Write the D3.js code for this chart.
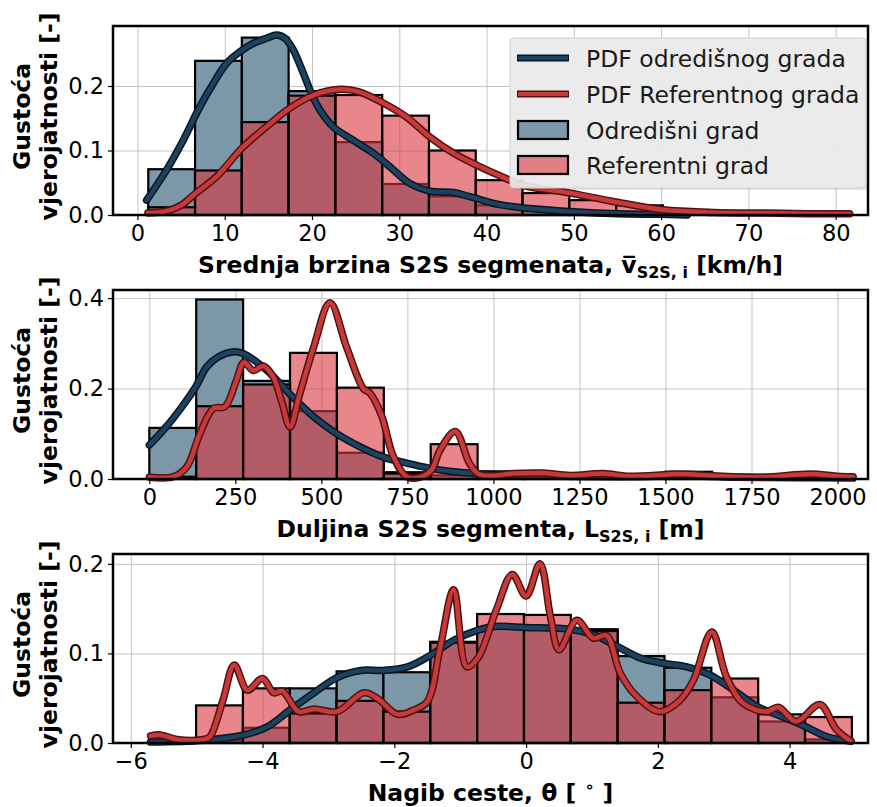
<!DOCTYPE html>
<html><head><meta charset="utf-8">
<script src="https://cdn.jsdelivr.net/npm/d3@7"></script>
<style>body{margin:0;background:#fff} svg text{font-family:"DejaVu Sans",sans-serif}</style>
</head><body><svg id="c" width="877" height="807"></svg>
<script>
// ---------- Panel 1: mean speed ----------
const speedEdges = [1.24, 6.6, 11.96, 17.32, 22.68, 28.04, 33.4, 38.76, 44.12, 49.48, 54.84, 60.2, 65.56, 70.92, 76.28, 81.64];
const speedDest = [0.071, 0.239, 0.275, 0.192, 0.113, 0.048, 0.029, 0.015, 0.008, 0.004, 0.002, 0, 0, 0, 0];
const speedRef  = [0.012, 0.069, 0.144, 0.185, 0.186, 0.154, 0.100, 0.054, 0.034, 0.023, 0.015, 0.008, 0.005, 0.003, 0.002];
const speedDestPdf = [[1.05,0.023],[3.34,0.07],[5.25,0.116],[7.16,0.168],[8.69,0.204],[10.2,0.235],[11.74,0.253],[13.27,0.266],[14.8,0.274],[15.94,0.279],[16.9,0.274],[17.85,0.256],[19.0,0.22],[20.1,0.183],[20.9,0.163],[22.4,0.137],[24.7,0.116],[27.0,0.096],[28.9,0.075],[31.2,0.049],[33.5,0.037],[36.2,0.035],[38.2,0.028],[41.5,0.016],[45,0.01],[50,0.005],[55,0.002],[60,0.001],[63,0.0]];
const speedRefPdf = [[1.2,0.003],[3.3,0.006],[5,0.015],[6.7,0.034],[9.1,0.06],[12.0,0.104],[14.8,0.137],[17.5,0.166],[20.2,0.186],[23.3,0.195],[25.4,0.191],[28.1,0.174],[30.8,0.152],[33.5,0.121],[36.2,0.096],[38.9,0.077],[41.5,0.061],[44.2,0.046],[49.6,0.034],[54.5,0.021],[60.2,0.008],[66,0.004],[72,0.003],[77,0.002],[81.6,0.002]];
const speedXTicks = [0,10,20,30,40,50,60,70,80];
const speedYTicks = [0,0.1,0.2];

// ---------- Panel 2: segment length ----------
const lengthEdges = [0, 136.3, 272.6, 408.9, 545.2, 681.5, 817.8, 954.1, 1090.4, 1226.7, 1363, 1499.3, 1635.6, 1771.9, 1908.2, 2044.5];
const lengthDest = [0.113, 0.397, 0.217, 0.150, 0.058, 0.015, 0.008, 0.017, 0.005, 0.003, 0.002, 0.016, 0, 0, 0];
const lengthRef  = [0.005, 0.161, 0.209, 0.279, 0.202, 0.012, 0.077, 0.012, 0.013, 0.008, 0.007, 0.010, 0.003, 0.004, 0.008];
const lengthDestPdf = [[0,0.075],[50,0.116],[100,0.165],[135,0.204],[167,0.248],[200,0.27],[240,0.281],[271,0.278],[341,0.241],[407,0.189],[477,0.138],[543,0.101],[613,0.071],[678,0.049],[748,0.035],[814,0.024],[884,0.016],[951,0.012],[1019,0.009],[1200,0.006],[1400,0.005],[1550,0.007],[1700,0.004],[1900,0.003],[2045,0.002]];
const lengthRefPdf = [[0,0.004],[70,0.005],[109,0.027],[147,0.10],[186,0.156],[220,0.16],[254,0.22],[275,0.258],[302,0.24],[331,0.25],[360,0.226],[385,0.17],[409,0.115],[436,0.185],[477,0.29],[525,0.39],[574,0.29],[622,0.20],[641,0.19],[675,0.14],[709,0.05],[748,0.005],[787,0.004],[820,0.02],[845,0.064],[889,0.105],[930,0.035],[955,0.012],[990,0.007],[1058,0.012],[1145,0.013],[1223,0.008],[1320,0.012],[1397,0.006],[1543,0.011],[1640,0.007],[1785,0.004],[1921,0.011],[1998,0.006],[2045,0.005]];
const lengthXTicks = [0,250,500,750,1000,1250,1500,1750,2000];
const lengthYTicks = [0,0.2,0.4];

// ---------- Panel 3: road grade ----------
const gradeEdges = [-5.72, -5.009, -4.298, -3.587, -2.876, -2.165, -1.454, -0.743, -0.032, 0.679, 1.39, 2.101, 2.812, 3.523, 4.234, 4.945];
const gradeDest = [0.002, 0.003, 0.017, 0.061, 0.080, 0.079, 0.113, 0.128, 0.127, 0.127, 0.097, 0.084, 0.051, 0.024, 0.004];
const gradeRef  = [0.003, 0.042, 0.061, 0.033, 0.047, 0.035, 0.112, 0.144, 0.143, 0.125, 0.045, 0.059, 0.072, 0.032, 0.029];
const gradeDestPdf = [[-5.7,0.001],[-4.9,0.003],[-4.28,0.009],[-3.93,0.018],[-3.58,0.037],[-3.22,0.056],[-2.87,0.073],[-2.51,0.081],[-2.17,0.081],[-1.80,0.085],[-1.45,0.098],[-1.09,0.115],[-0.73,0.126],[-0.48,0.13],[0,0.129],[0.67,0.127],[1.02,0.121],[1.38,0.108],[1.73,0.095],[2.08,0.089],[2.44,0.085],[2.79,0.076],[3.15,0.059],[3.50,0.041],[3.86,0.03],[4.22,0.019],[4.57,0.007],[4.93,0.002]];
const gradeRefPdf = [[-5.7,0.008],[-5.55,0.009],[-5.3,0.004],[-4.9,0.004],[-4.8,0.007],[-4.6,0.048],[-4.43,0.087],[-4.23,0.059],[-4.0,0.072],[-3.83,0.056],[-3.7,0.058],[-3.45,0.035],[-3.22,0.038],[-2.87,0.035],[-2.46,0.056],[-2.26,0.05],[-1.95,0.032],[-1.70,0.037],[-1.50,0.046],[-1.30,0.108],[-1.10,0.171],[-0.90,0.085],[-0.73,0.095],[-0.45,0.149],[-0.21,0.188],[0,0.164],[0.21,0.2],[0.37,0.141],[0.50,0.104],[0.77,0.137],[1.02,0.117],[1.22,0.12],[1.43,0.078],[1.68,0.052],[2.03,0.035],[2.34,0.048],[2.54,0.07],[2.82,0.124],[3.04,0.074],[3.30,0.044],[3.65,0.035],[3.83,0.04],[4.10,0.024],[4.46,0.043],[4.71,0.015],[4.93,0.002]];
const gradeXTicks = [-6,-4,-2,0,2,4];
const gradeYTicks = [0,0.1,0.2];

const legendLabels = ["PDF odredišnog grada","PDF Referentnog grada","Odredišni grad","Referentni grad"];
const yLabelLines = ["Gustoća","vjerojatnosti [-]"];

// ---------- drawing ----------
const svg = d3.select("#c");
const L = 113, R = 868, H = 189;
const TICK_FS = 22.5, LABEL_FS = 23.5, LEGEND_FS = 23.5;
const COL = {blueFill:"#7b97a8", redFill:"#d9363e", blueLine:"#1d4260", blueEdge:"#071624", redLine:"#c83a3a", redEdge:"#4f1212", grid:"#c4c4c4"};
const minus = d => d < 0 ? "\u2212" + Math.abs(d) : String(d);

const panels = [
  {top:26, xd:[-2.8,83.7], ymax:0.293, edges:speedEdges, dest:speedDest, ref:speedRef, dPdf:speedDestPdf, rPdf:speedRefPdf, xt:speedXTicks, yt:speedYTicks,
   label:[{t:"Srednja brzina S2S segmenata, "},{t:"v\u0305"},{t:"S2S, i", sub:true},{t:" [km/h]", up:true}], legend:true},
  {top:290, xd:[-105.5,2088.5], ymax:0.418, edges:lengthEdges, dest:lengthDest, ref:lengthRef, dPdf:lengthDestPdf, rPdf:lengthRefPdf, xt:lengthXTicks, yt:lengthYTicks,
   label:[{t:"Duljina S2S segmenta, "},{t:"L"},{t:"S2S, i", sub:true},{t:" [m]", up:true}]},
  {top:554, xd:[-6.27,5.19], ymax:0.211, edges:gradeEdges, dest:gradeDest, ref:gradeRef, dPdf:gradeDestPdf, rPdf:gradeRefPdf, xt:gradeXTicks, yt:gradeYTicks,
   label:[{t:"Nagib ceste, \u03b8 [ "},{t:"\u2218", sup:true},{t:" ]", down:true}]}
];

panels.forEach((p, pi) => {
  const bottom = p.top + H;
  const x = d3.scaleLinear().domain(p.xd).range([L, R]);
  const y = d3.scaleLinear().domain([0, p.ymax]).range([bottom, p.top]);
  const g = svg.append("g");

  // grid
  g.append("g").attr("transform", `translate(0,${bottom})`)
    .call(d3.axisBottom(x).tickValues(p.xt).tickSize(-H).tickFormat(""))
    .call(a => { a.select(".domain").remove(); a.selectAll("line").attr("stroke", COL.grid).attr("stroke-width", 1); });
  g.append("g").attr("transform", `translate(${L},0)`)
    .call(d3.axisLeft(y).tickValues(p.yt).tickSize(-(R-L)).tickFormat(""))
    .call(a => { a.select(".domain").remove(); a.selectAll("line").attr("stroke", COL.grid).attr("stroke-width", 1); });

  const bars = (vals, fill, op) => g.append("g").selectAll("rect").data(vals).join("rect")
      .attr("x", (d,i) => x(p.edges[i])).attr("width", (d,i) => x(p.edges[i+1]) - x(p.edges[i]))
      .attr("y", d => y(d)).attr("height", d => y(0) - y(d))
      .attr("fill", fill).attr("fill-opacity", op)
      .attr("stroke", "#000").attr("stroke-width", 2.2);
  bars(p.dest, COL.blueFill, 1);
  bars(p.ref, COL.redFill, 0.6);

  const line = d3.line().x(d => x(d[0])).y(d => y(d[1])).curve(d3.curveCatmullRom.alpha(0.5));
  const pdf = (pts, edge, col) => {
    g.append("path").attr("d", line(pts)).attr("fill","none").attr("stroke", edge).attr("stroke-width", 7.5).attr("stroke-linecap","round").attr("stroke-linejoin","round");
    g.append("path").attr("d", line(pts)).attr("fill","none").attr("stroke", col).attr("stroke-width", 4.5).attr("stroke-linecap","round").attr("stroke-linejoin","round");
  };
  pdf(p.dPdf, COL.blueEdge, COL.blueLine);
  pdf(p.rPdf, COL.redEdge, COL.redLine);

  // axes ticks
  const ax = g.append("g").attr("transform", `translate(0,${bottom})`)
    .call(d3.axisBottom(x).tickValues(p.xt).tickSize(5).tickPadding(5).tickFormat(minus));
  const ay = g.append("g").attr("transform", `translate(${L},0)`)
    .call(d3.axisLeft(y).tickValues(p.yt).tickSize(5).tickPadding(4).tickFormat(d3.format(".1f")));
  [ax, ay].forEach(a => {
    a.select(".domain").remove();
    a.selectAll("line").attr("stroke","#000").attr("stroke-width",1.2);
    a.selectAll("text").attr("font-size", TICK_FS).attr("fill","#000").attr("font-family","DejaVu Sans");
  });

  // spines
  g.append("rect").attr("x", L).attr("y", p.top).attr("width", R-L).attr("height", H)
    .attr("fill","none").attr("stroke","#000").attr("stroke-width", 2.5);

  // x label
  const xl = g.append("text").attr("x", (L+R)/2).attr("y", bottom + 58).attr("text-anchor","middle")
    .attr("font-size", LABEL_FS).attr("font-weight","bold").attr("fill","#000");
  p.label.forEach(s => {
    const t = xl.append("tspan").text(s.t);
    if (s.sub) t.attr("font-size", 16).attr("dy", 5);
    if (s.up) t.attr("dy", -5);
    if (s.sup) t.attr("font-size", 16).attr("dy", -9);
    if (s.down) t.attr("dy", 9);
  });

  // y label
  const cy = p.top + H/2 - 4;
  yLabelLines.forEach((ln, li) => {
    g.append("text").attr("transform", `translate(${30 + li*27},${cy}) rotate(-90)`)
      .attr("text-anchor","middle").attr("font-size", LABEL_FS).attr("font-weight","bold").attr("fill","#000").text(ln);
  });

  // legend
  if (p.legend) {
    const lg = svg.append("g");
    const lx = 510, ly = 38, lw = 356, lh = 150;
    lg.append("rect").attr("x", lx+2).attr("y", ly+2).attr("width", lw).attr("height", lh).attr("rx", 4).attr("fill", "#000").attr("fill-opacity", 0.1);
    lg.append("rect").attr("x", lx).attr("y", ly).attr("width", lw).attr("height", lh).attr("rx", 4)
      .attr("fill", "#ebebeb").attr("fill-opacity", 0.92).attr("stroke", "#cfcfcf").attr("stroke-width", 1);
    const rows = [58, 94, 130, 165];
    const hx0 = 517, hx1 = 569;
    [[COL.blueEdge, COL.blueLine],[COL.redEdge, COL.redLine]].forEach((c, i) => {
      lg.append("line").attr("x1", hx0).attr("x2", hx1).attr("y1", rows[i]).attr("y2", rows[i]).attr("stroke", c[0]).attr("stroke-width", 7);
      lg.append("line").attr("x1", hx0+1).attr("x2", hx1-1).attr("y1", rows[i]).attr("y2", rows[i]).attr("stroke", c[1]).attr("stroke-width", 4);
    });
    [[COL.blueFill,1],[COL.redFill,0.6]].forEach((c, i) => {
      lg.append("rect").attr("x", hx0+1).attr("y", rows[i+2]-9).attr("width", hx1-hx0-2).attr("height", 18)
        .attr("fill", c[0]).attr("fill-opacity", c[1]).attr("stroke","#000").attr("stroke-width", 2.2);
    });
    legendLabels.forEach((t, i) => {
      lg.append("text").attr("x", 586).attr("y", rows[i] + 8.5).attr("font-size", LEGEND_FS).attr("fill","#1a1a1a").text(t);
    });
  }
});
</script></body></html>
